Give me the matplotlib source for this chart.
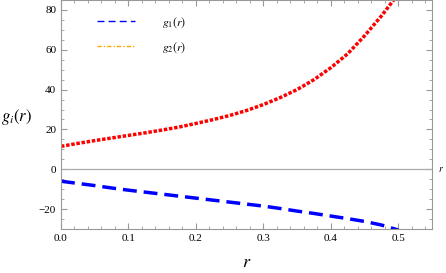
import matplotlib.pyplot as plt
from matplotlib.lines import Line2D
from matplotlib.ticker import MultipleLocator

# values
r = [0.0, 0.025, 0.05, 0.075, 0.1, 0.125, 0.15, 0.175, 0.2, 0.225, 0.25,
     0.275, 0.3, 0.325, 0.35, 0.375, 0.4, 0.425, 0.45, 0.475, 0.5]
g1 = [-6.0, -7.1, -8.2, -9.4, -10.5, -11.5, -12.5, -13.5, -14.5, -15.5, -16.5,
      -17.5, -18.5, -19.7, -21.0, -22.2, -23.5, -24.8, -26.2, -28.0, -30.5]
g2 = [11.5, 13.0, 14.4, 15.7, 17.0, 18.3, 19.7, 21.2, 23.0, 24.9, 27.0,
      29.5, 32.5, 36.0, 40.0, 45.0, 51.0, 58.0, 67.0, 77.0, 88.0]

plt.rcParams['font.family'] = ['Liberation Serif', 'DejaVu Serif']
plt.rcParams['mathtext.fontset'] = 'stix'

fig = plt.figure(figsize=(4.46, 2.73), dpi=100)
ax = fig.add_axes([61 / 446, 1 - 229 / 273, (432 - 61) / 446, 229 / 273])

ax.axhline(0, color='#aaaaaa', lw=0.9)
ax.plot(r, g1, color='blue', lw=2.5, dashes=(4, 2))
ax.plot(r, g2, color='red', lw=2.5, dashes=(1.0, 0.5))

ax.set_xlim(0, 0.55)
ax.set_ylim(-30, 85)
ax.xaxis.set_minor_locator(MultipleLocator(0.02))
ax.yaxis.set_major_locator(MultipleLocator(20))
ax.yaxis.set_minor_locator(MultipleLocator(5))
ax.set_xticks([0, 0.1, 0.2, 0.3, 0.4, 0.5])
ax.set_xticklabels(['0.0', '0.1', '0.2', '0.3', '0.4', '0.5'])
ax.tick_params(which='both', direction='in', top=True, right=True,
               color='#999999', labelsize=8)
ax.tick_params(which='major', length=4)
ax.tick_params(which='minor', length=2)
for s in ax.spines.values():
    s.set_color('#999999')

ax.set_xlabel(r'$r$', fontsize=13, labelpad=8)
ax.set_ylabel(r'$g_i(r)$', fontsize=12, rotation=0, va='center', ha='center')
ax.yaxis.set_label_coords((17 - 61) / 371, (229 - 117) / 229)
ax.text(1.015, 30 / 115, r'$r$', transform=ax.transAxes, fontsize=7,
        va='center', ha='left')

handles = [Line2D([], [], color='blue', lw=1, dashes=(5, 3)),
           Line2D([], [], color='orange', lw=1, dashes=(3, 1.5, 1, 1.5))]
ax.legend(handles, [r'$g_1(r)$', r'$g_2(r)$'], loc='upper left',
          bbox_to_anchor=(0.084, 0.955), borderaxespad=0, frameon=False,
          fontsize=8.5, handlelength=3.2, handletextpad=2.3, labelspacing=0.9)

plt.savefig('out.png')
